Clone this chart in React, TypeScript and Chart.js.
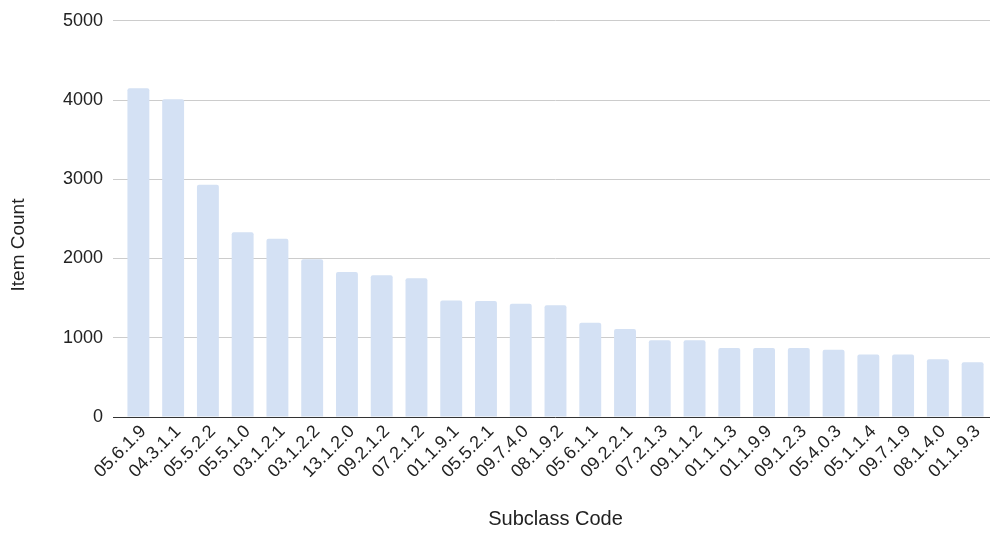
import React, { useEffect, useRef } from "react";
import { Chart, registerables } from "chart.js";

Chart.register(...registerables);

const subclassCodes: string[] = [
  "05.6.1.9", "04.3.1.1", "05.5.2.2", "05.5.1.0", "03.1.2.1",
  "03.1.2.2", "13.1.2.0", "09.2.1.2", "07.2.1.2", "01.1.9.1",
  "05.5.2.1", "09.7.4.0", "08.1.9.2", "05.6.1.1", "09.2.2.1",
  "07.2.1.3", "09.1.1.2", "01.1.1.3", "01.1.9.9", "09.1.2.3",
  "05.4.0.3", "05.1.1.4", "09.7.1.9", "08.1.4.0", "01.1.9.3",
];

const itemCounts: number[] = [
  4150, 4010, 2930, 2330, 2250,
  1990, 1830, 1790, 1750, 1470,
  1465, 1430, 1410, 1190, 1110,
  970, 970, 870, 870, 870,
  850, 790, 790, 730, 690,
];

const yTickValues: number[] = [0, 1000, 2000, 3000, 4000, 5000];

const xAxisTitle = "Subclass Code";
const yAxisTitle = "Item Count";

const FONT = "'Liberation Sans', Arial, sans-serif";
const TEXT = "#222222";

// Vertical axis title, placed left of the tick labels
const yTitlePlugin = {
  id: "yTitle",
  afterDraw(chart: Chart) {
    const { ctx } = chart;
    ctx.save();
    ctx.translate(19, 245);
    ctx.rotate(-Math.PI / 2);
    ctx.font = `19px ${FONT}`;
    ctx.fillStyle = TEXT;
    ctx.textAlign = "center";
    ctx.textBaseline = "middle";
    ctx.fillText(yAxisTitle, 0, 0);
    ctx.restore();
  },
};

export default function App() {
  const canvasRef = useRef<HTMLCanvasElement | null>(null);

  useEffect(() => {
    if (!canvasRef.current) return;
    const chart = new Chart(canvasRef.current, {
      type: "bar",
      data: {
        labels: subclassCodes,
        datasets: [
          {
            label: yAxisTitle,
            data: itemCounts,
            backgroundColor: "#d4e1f4",
            borderWidth: 0,
            borderRadius: { topLeft: 2, topRight: 2 },
            borderSkipped: "bottom",
            barPercentage: 0.63,
            categoryPercentage: 1,
          },
        ],
      },
      options: {
        responsive: false,
        animation: false,
        layout: { padding: { top: 17, left: 0, right: 0, bottom: 0 } },
        plugins: {
          legend: { display: false },
          tooltip: { enabled: false },
        },
        scales: {
          x: {
            grid: { display: false },
            border: { display: false },
            ticks: {
              color: TEXT,
              font: { family: FONT, size: 18 },
              minRotation: 45,
              maxRotation: 45,
              autoSkip: false,
              padding: -4,
              labelOffset: 5,
            },
            title: {
              display: true,
              text: xAxisTitle,
              color: TEXT,
              font: { family: FONT, size: 20 },
              padding: { top: 4, bottom: 4 },
            },
            afterFit(scale: any) {
              scale.height = 118;
            },
          },
          y: {
            min: 0,
            max: 5000,
            border: { display: false },
            grid: {
              color: (ctx: any) => (ctx.tick && ctx.tick.value === 0 ? "#333333" : "#cccccc"),
              lineWidth: 1,
              tickLength: 8,
            },
            afterBuildTicks(scale: any) {
              scale.ticks = yTickValues.map((v) => ({ value: v }));
            },
            ticks: {
              color: TEXT,
              font: { family: FONT, size: 18 },
              padding: 10,
              callback: (value: any) => String(value),
            },
            afterFit(scale: any) {
              scale.width = 121;
            },
          },
        },
      },
      plugins: [yTitlePlugin],
    });
    return () => chart.destroy();
  }, []);

  return (
    <div style={{ position: "fixed", left: 0, top: 0, width: 990, height: 535, background: "#ffffff" }}>
      <canvas ref={canvasRef} width={990} height={535} style={{ display: "block", width: 990, height: 535 }} />
    </div>
  );
}
